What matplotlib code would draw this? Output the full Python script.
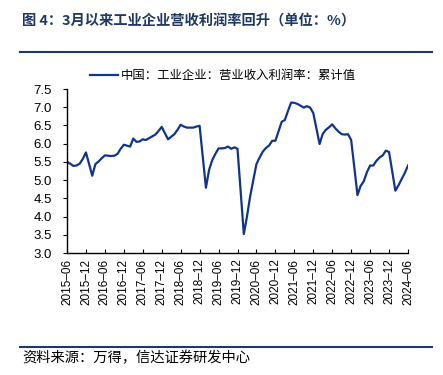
import matplotlib
matplotlib.use("Agg")
import matplotlib.pyplot as plt
from matplotlib.lines import Line2D

plt.rcParams['font.family'] = ['Liberation Sans', 'Noto Sans CJK SC', 'DejaVu Sans']

dates = (
    ["2015-%02d" % m for m in range(6, 13)] +
    [f"{y}-{m:02d}" for y in range(2016, 2024) for m in range(2, 13)] +
    ["2024-%02d" % m for m in range(2, 7)]
)
values = [
    5.50, 5.45, 5.39, 5.40, 5.45, 5.58, 5.76,
    5.12, 5.44, 5.51, 5.60, 5.68, 5.67, 5.66, 5.67, 5.72, 5.86, 5.97,
    5.92, 6.14, 6.05, 6.06, 6.12, 6.10, 6.15, 6.20, 6.25, 6.35, 6.46,
    6.12, 6.19, 6.26, 6.38, 6.52, 6.47, 6.44, 6.44, 6.44, 6.47, 6.49,
    4.79, 5.28, 5.55, 5.72, 5.87, 5.87, 5.88, 5.92, 5.86, 5.90, 5.86,
    3.52, 4.00, 4.55, 5.00, 5.44, 5.62, 5.78, 5.88, 5.95, 6.08, 6.08,
    6.60, 6.65, 6.90, 7.13, 7.12, 7.09, 7.04, 6.99, 7.03, 6.99, 6.84,
    5.99, 6.27, 6.38, 6.45, 6.53, 6.42, 6.33, 6.26, 6.25, 6.26, 6.10,
    4.59, 4.84, 4.97, 5.22, 5.40, 5.40, 5.53, 5.62, 5.68, 5.81, 5.77,
    4.71, 4.86, 5.03, 5.20, 5.40,
]
tick_labels = [f"{y}-{m}" for y in range(2015, 2025) for m in ("06", "12")][:-1]
yticks = [3.0, 3.5, 4.0, 4.5, 5.0, 5.5, 6.0, 6.5, 7.0, 7.5]

title = "图 4：3月以来工业企业营收利润率回升（单位：%）"
series_name = "中国：工业企业：营业收入利润率：累计值"
source = "资料来源：万得，信达证券研发中心"

def month_index(s):
    y, m = map(int, s.split("-"))
    return (y - 2015) * 12 + (m - 6)

x = [month_index(d) for d in dates]
tick_pos = [month_index(t) for t in tick_labels]

line_color = "#12358A"
navy = "#1F3864"

fig = plt.figure(figsize=(4.43, 3.75), dpi=100)
ax = fig.add_axes([67/443, 1-253/375, (408-67)/443, (253-89)/375])
ax.plot(x, values, color=line_color, lw=1.6)
ax.set_xlim(0, 108)
ax.set_ylim(3.0, 7.5)
ax.set_yticks(yticks)
ax.set_yticklabels([f"{v:.1f}" for v in yticks], fontsize=9.5)
ax.set_xticks(tick_pos)
ax.set_xticklabels([t.replace("-", "–") for t in tick_labels], rotation=90, fontsize=8.5)
for s in ("top", "right"):
    ax.spines[s].set_visible(False)
for s in ("left", "bottom"):
    ax.spines[s].set_color("black")
    ax.spines[s].set_linewidth(1.0)
ax.tick_params(axis="y", direction="out", length=3, width=0.8, pad=8)
ax.tick_params(axis="x", direction="in", length=3, width=0.8, pad=4)

# title
fig.text(22/443, 1-22/375, title, fontsize=10.3, fontweight="bold", color=navy,
         family=['Noto Sans CJK SC', 'DejaVu Sans'], va="center", ha="left")
fig.add_artist(Line2D([20/443, 432/443], [1-52/375, 1-52/375], color=navy, lw=1.5))

# legend
fig.add_artist(Line2D([90/443, 118/443], [1-75/375, 1-75/375], color=line_color, lw=1.6))
fig.text(121/443, 1-75/375, series_name, fontsize=8.9, color="black",
         family=['Noto Sans CJK SC', 'DejaVu Sans'], va="center", ha="left")

# source
fig.add_artist(Line2D([20/443, 432/443], [1-347/375, 1-347/375], color=navy, lw=1.5))
fig.text(22/443, 1-358/375, source, fontsize=10.3, color="black", style="italic",
         family=['Noto Sans CJK SC', 'DejaVu Sans'], va="center", ha="left")

fig.savefig("out.png", dpi=100)
